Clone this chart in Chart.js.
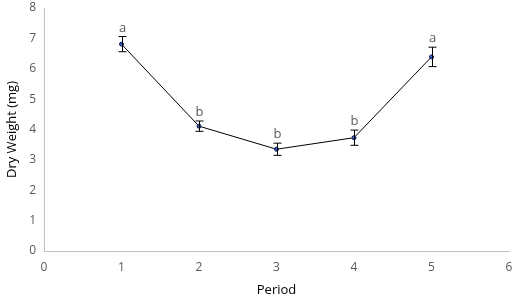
<!DOCTYPE html>
<html>
<head>
<meta charset="utf-8">
<script src="https://cdn.jsdelivr.net/npm/chart.js@4"></script>
<style>
  html, body { margin: 0; padding: 0; background: #fff; }
  #wrap { width: 517px; height: 302px; }
</style>
</head>
<body>
<div id="wrap"><canvas id="dryChart"></canvas></div>
<script>
// Dry weight per period, with error bars and significance letters
const periods = [1, 2, 3, 4, 5];
const dryWeight = [6.81, 4.11, 3.35, 3.73, 6.39];
const errors = [0.25, 0.17, 0.2, 0.25, 0.32];
const letters = ['a', 'b', 'b', 'b', 'a'];

const axisGrey = '#bfbfbf';
const textGrey = '#595959';
const fontFamily = "'Open Sans', 'Liberation Sans', sans-serif";

// draws the error bars and the letters above them
const errorBars = {
    id: 'errorBars',
    afterDatasetsDraw(chart) {
        const { ctx, scales: { x, y } } = chart;
        ctx.save();
        ctx.strokeStyle = '#000';
        ctx.lineWidth = 1;
        periods.forEach((p, i) => {
            const px = Math.round(x.getPixelForValue(p)) + 0.5;
            const top = y.getPixelForValue(dryWeight[i] + errors[i]);
            const bot = y.getPixelForValue(dryWeight[i] - errors[i]);
            ctx.beginPath();
            ctx.moveTo(px, top); ctx.lineTo(px, bot);
            ctx.moveTo(px - 4, top); ctx.lineTo(px + 4, top);
            ctx.moveTo(px - 4, bot); ctx.lineTo(px + 4, bot);
            ctx.stroke();
            ctx.fillStyle = textGrey;
            ctx.font = '13px ' + fontFamily;
            ctx.textAlign = 'center';
            ctx.textBaseline = 'bottom';
            ctx.fillText(letters[i], px, top - 2);
        });
        ctx.restore();
    }
};

new Chart(document.getElementById('dryChart'), {
    type: 'line',
    data: {
        datasets: [{
            data: periods.map((p, i) => ({ x: p, y: dryWeight[i] })),
            borderColor: '#000',
            borderWidth: 1,
            pointRadius: 2,
            pointBackgroundColor: '#3358c8',
            pointBorderColor: '#0a1a4a',
            pointBorderWidth: 1,
            tension: 0
        }]
    },
    options: {
        responsive: true,
        maintainAspectRatio: false,
        animation: false,
        layout: { padding: 0 },
        plugins: { legend: { display: false }, tooltip: { enabled: false } },
        scales: {
            x: {
                type: 'linear',
                min: 0, max: 6,
                ticks: { stepSize: 1, color: textGrey, font: { family: fontFamily, size: 12 }, padding: 9 },
                grid: { display: false, drawTicks: false },
                border: { color: axisGrey, width: 1 },
                title: { display: true, text: 'Period', color: '#000', font: { family: fontFamily, size: 13 }, padding: { top: 4 } },
                afterFit: (s) => { s.height = 51; s.paddingRight = 8; s.paddingLeft = 0; }
            },
            y: {
                min: 0, max: 8,
                ticks: { stepSize: 1, color: textGrey, font: { family: fontFamily, size: 12 }, padding: 8 },
                grid: { display: false, drawTicks: false },
                border: { color: axisGrey, width: 1 },
                title: { display: true, text: 'Dry Weight (mg)', color: '#000', font: { family: fontFamily, size: 13 }, padding: { bottom: 2 } },
                afterFit: (s) => { s.width = 44; s.paddingTop = 8; s.paddingBottom = 0; }
            }
        }
    },
    plugins: [errorBars]
});
</script>
</body>
</html>
